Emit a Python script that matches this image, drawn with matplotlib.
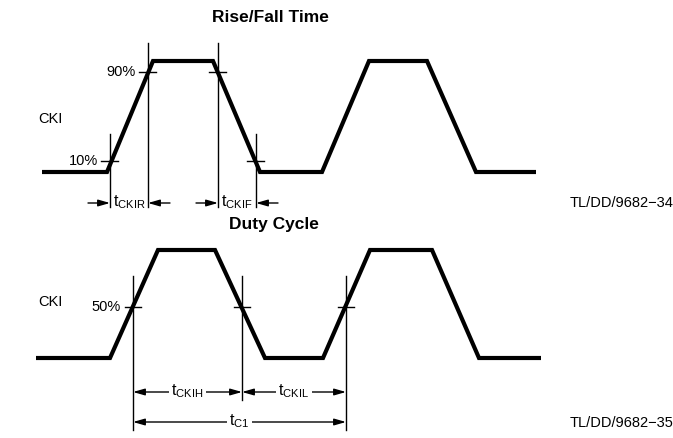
# timing diagram: CKI rise/fall time and duty cycle
import matplotlib.pyplot as plt

plt.rcParams['font.family'] = ['Liberation Sans', 'DejaVu Sans']
plt.rcParams['mathtext.fontset'] = 'custom'
plt.rcParams['mathtext.rm'] = 'Liberation Sans'

# top waveform (rise/fall time)
top_x = [42, 107, 153, 213, 260, 322, 369, 427, 476, 536]
top_y = [172, 172, 61, 61, 172, 172, 61, 61, 172, 172]
top_marks = [110, 148, 218, 256]          # vertical reference lines
top_pct = ['10%', '90%', '90%', '10%']
top_pct_y = [161, 72, 72, 161]

# bottom waveform (duty cycle)
bot_x = [36, 110, 158, 215, 265, 323, 370, 432, 479, 541]
bot_y = [358, 358, 250, 250, 358, 358, 250, 250, 358, 358]
bot_marks = [133, 242, 346]
bot_mid = 307

fig = plt.figure(figsize=(6.73, 4.38), dpi=100)
ax = fig.add_axes([0, 0, 1, 1])
ax.set_xlim(0, 673)
ax.set_ylim(438, 0)
ax.axis('off')

thick = dict(color='black', lw=3.0, solid_joinstyle='miter', solid_capstyle='butt')
thin = dict(color='black', lw=1.0)
arr = dict(arrowstyle='-|>,head_length=0.7,head_width=0.2', color='black', lw=1.0,
           shrinkA=0, shrinkB=0)

# ---- Rise/Fall Time ----
ax.text(270, 17, 'Rise/Fall Time', ha='center', va='center', fontsize=12.5, fontweight='bold')
ax.plot(top_x, top_y, **thick)
ax.text(38, 119, 'CKI', ha='left', va='center', fontsize=10.5)

# vertical lines: 10% ones short, 90% ones tall
ax.plot([top_marks[0]] * 2, [134, 207], **thin)
ax.plot([top_marks[1]] * 2, [43, 207], **thin)
ax.plot([top_marks[2]] * 2, [43, 207], **thin)
ax.plot([top_marks[3]] * 2, [134, 207], **thin)
for xm, yp in zip(top_marks, top_pct_y):
    ax.plot([xm - 9, xm + 8], [yp, yp], **thin)
ax.text(top_marks[0] - 12, top_pct_y[0], top_pct[0], ha='right', va='center', fontsize=10.5)
ax.text(top_marks[1] - 12, top_pct_y[1], top_pct[1], ha='right', va='center', fontsize=10.5)

# tCKIR / tCKIF arrows pointing inward
ya = 203
for x1, x2, lab in [(top_marks[0], top_marks[1], 'CKIR'), (top_marks[2], top_marks[3], 'CKIF')]:
    ax.annotate('', xy=(x1, ya), xytext=(x1 - 22, ya), arrowprops=arr)
    ax.annotate('', xy=(x2, ya), xytext=(x2 + 22, ya), arrowprops=arr)
    ax.text((x1 + x2) / 2, ya - 1, r'$\mathregular{t_{%s}}$' % lab, ha='center', va='center',
            fontsize=11.5)
ax.text(570, 203, 'TL/DD/9682\u221234', ha='left', va='center', fontsize=10.5)

# ---- Duty Cycle ----
ax.text(274, 225, 'Duty Cycle', ha='center', va='center', fontsize=12.5, fontweight='bold')
ax.plot(bot_x, bot_y, **thick)
ax.text(38, 302, 'CKI', ha='left', va='center', fontsize=10.5)

ax.plot([bot_marks[0]] * 2, [276, 430], **thin)
ax.plot([bot_marks[1]] * 2, [276, 400], **thin)
ax.plot([bot_marks[2]] * 2, [276, 430], **thin)
for xm in bot_marks:
    ax.plot([xm - 8, xm + 8], [bot_mid, bot_mid], **thin)
ax.text(bot_marks[0] - 12, bot_mid, '50%', ha='right', va='center', fontsize=10.5)

dbl = dict(arr)
dbl['arrowstyle'] = '<|-|>,head_length=0.7,head_width=0.2'
for x1, x2, yy, lab in [(bot_marks[0], bot_marks[1], 392, 'CKIH'),
                        (bot_marks[1], bot_marks[2], 392, 'CKIL'),
                        (bot_marks[0], bot_marks[2], 422, 'C1')]:
    ax.annotate('', xy=(x2, yy), xytext=(x1, yy), arrowprops=dbl)
    ax.text((x1 + x2) / 2, yy - 1, r'$\mathregular{t_{%s}}$' % lab, ha='center', va='center',
            fontsize=11.5, bbox=dict(facecolor='white', edgecolor='none', pad=1.5))
ax.text(570, 423, 'TL/DD/9682\u221235', ha='left', va='center', fontsize=10.5)

fig.savefig('out.png', dpi=100)
